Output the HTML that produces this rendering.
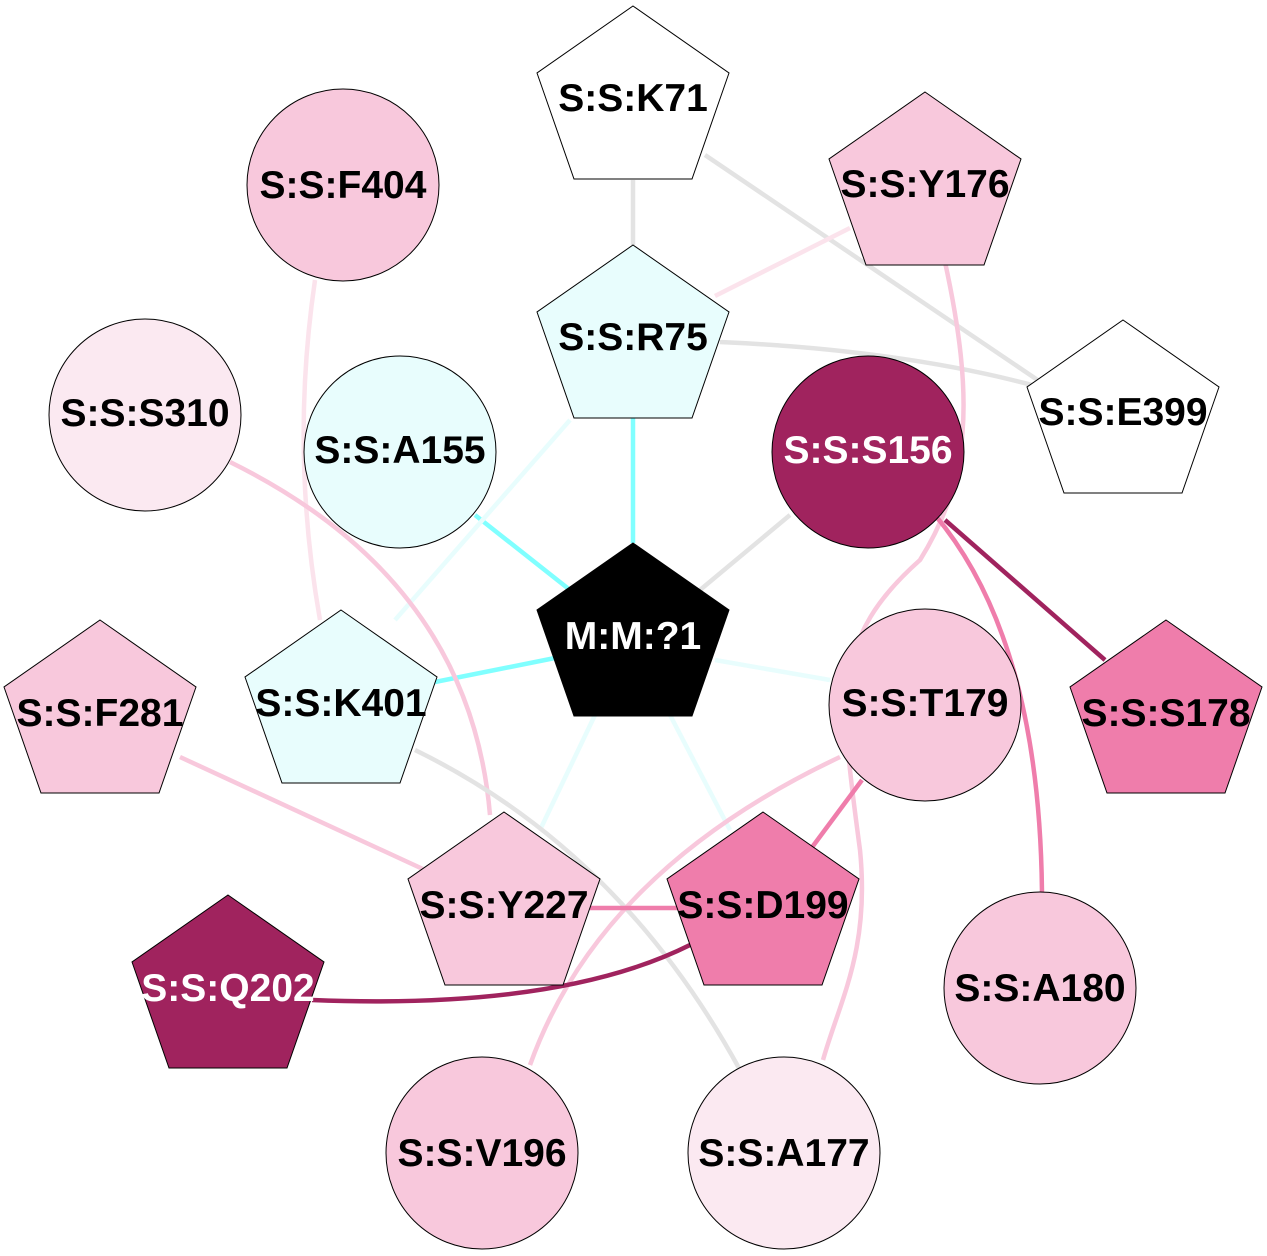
<!DOCTYPE html>
<html><head><meta charset="utf-8"><style>html,body{margin:0;padding:0;background:#fff}svg{display:block}</style></head><body>
<svg width="1267" height="1256" viewBox="0 0 1267 1256" xmlns="http://www.w3.org/2000/svg">
<defs>
<polygon id="pg" points="0,-96 96,-29 59,77 -59,77 -96,-29" stroke="#000" stroke-width="1"/>
</defs>
<g fill="none" stroke-width="4.5">
<line x1="633" y1="180" x2="633" y2="245" stroke="#e3e3e3"/>
<line x1="705" y1="155" x2="1045" y2="385" stroke="#e3e3e3"/>
<path d="M720,342 Q900,350 1032,385" stroke="#e3e3e3"/>
<line x1="850" y1="228" x2="715" y2="296" stroke="#fbe3ec"/>
<path d="M945,262 C975,400 970,480 920,560 C830,640 840,700 860,850 C870,950 840,1000 823,1060" stroke="#f8c8dc"/>
<line x1="633" y1="417" x2="633" y2="543" stroke="#80ffff"/>
<line x1="475" y1="515" x2="570" y2="590" stroke="#80ffff"/>
<line x1="430" y1="683" x2="555" y2="658" stroke="#80ffff"/>
<line x1="570" y1="420" x2="395" y2="620" stroke="#e8fdfd"/>
<line x1="715" y1="660" x2="830" y2="680" stroke="#e8fdfd"/>
<line x1="595" y1="715" x2="540" y2="830" stroke="#e8fdfd"/>
<line x1="670" y1="715" x2="730" y2="830" stroke="#e8fdfd"/>
<line x1="790" y1="515" x2="700" y2="590" stroke="#e3e3e3"/>
<line x1="945" y1="520" x2="1105" y2="660" stroke="#a0235e"/>
<path d="M935,515 Q1040,640 1042,895" stroke="#ef7dab"/>
<path d="M315,280 Q290,450 320,620" stroke="#fbe3ec"/>
<path d="M230,462 Q470,580 490,815" stroke="#f8c8dc"/>
<line x1="180" y1="757" x2="425" y2="870" stroke="#f8c8dc"/>
<path d="M415,750 Q620,850 740,1070" stroke="#e3e3e3"/>
<path d="M840,757 Q600,870 530,1065" stroke="#f8c8dc"/>
<line x1="862" y1="780" x2="810" y2="850" stroke="#ef7dab"/>
<line x1="590" y1="908" x2="680" y2="908" stroke="#ef7dab"/>
<path d="M312,1000 Q560,1010 690,945" stroke="#a0235e"/>
</g>
<g>
<use href="#pg" x="633" y="102" fill="#fff"/>
<circle cx="343" cy="185" r="96" fill="#f8c8dc" stroke="#000"/>
<use href="#pg" x="925" y="188" fill="#f8c8dc"/>
<use href="#pg" x="633" y="341" fill="#e8fdfd"/>
<circle cx="145" cy="415" r="96" fill="#fbe9f1" stroke="#000"/>
<circle cx="400" cy="452" r="96" fill="#e8fdfd" stroke="#000"/>
<circle cx="868" cy="452" r="96" fill="#a0235e" stroke="#000"/>
<use href="#pg" x="1123" y="416" fill="#fff"/>
<use href="#pg" x="633" y="639" fill="#000"/>
<use href="#pg" x="341" y="706" fill="#e8fdfd"/>
<use href="#pg" x="100" y="716" fill="#f8c8dc"/>
<circle cx="925" cy="705" r="96" fill="#f8c8dc" stroke="#000"/>
<use href="#pg" x="1166" y="716" fill="#ef7dab"/>
<use href="#pg" x="504" y="908" fill="#f8c8dc"/>
<use href="#pg" x="763" y="908" fill="#ef7dab"/>
<use href="#pg" x="228" y="991" fill="#a0235e"/>
<circle cx="1040" cy="988" r="96" fill="#f8c8dc" stroke="#000"/>
<circle cx="482" cy="1153" r="96" fill="#f8c8dc" stroke="#000"/>
<circle cx="784" cy="1153" r="96" fill="#fbe9f1" stroke="#000"/>
</g>
<g font-family="Liberation Sans, Arial, sans-serif" font-weight="bold" font-size="39" text-anchor="middle" fill="#000">
<text x="633" y="111">S:S:K71</text>
<text x="343" y="198">S:S:F404</text>
<text x="925" y="197">S:S:Y176</text>
<text x="633" y="350">S:S:R75</text>
<text x="145" y="426">S:S:S310</text>
<text x="400" y="463">S:S:A155</text>
<text x="868" y="463" fill="#fff">S:S:S156</text>
<text x="1123" y="425">S:S:E399</text>
<text x="633" y="649" fill="#fff">M:M:?1</text>
<text x="341" y="716">S:S:K401</text>
<text x="100" y="726">S:S:F281</text>
<text x="925" y="716">S:S:T179</text>
<text x="1166" y="726">S:S:S178</text>
<text x="504" y="918">S:S:Y227</text>
<text x="763" y="918">S:S:D199</text>
<text x="228" y="1001" fill="#fff">S:S:Q202</text>
<text x="1040" y="1001">S:S:A180</text>
<text x="482" y="1166">S:S:V196</text>
<text x="784" y="1166">S:S:A177</text>
</g>
</svg>
</body></html>
